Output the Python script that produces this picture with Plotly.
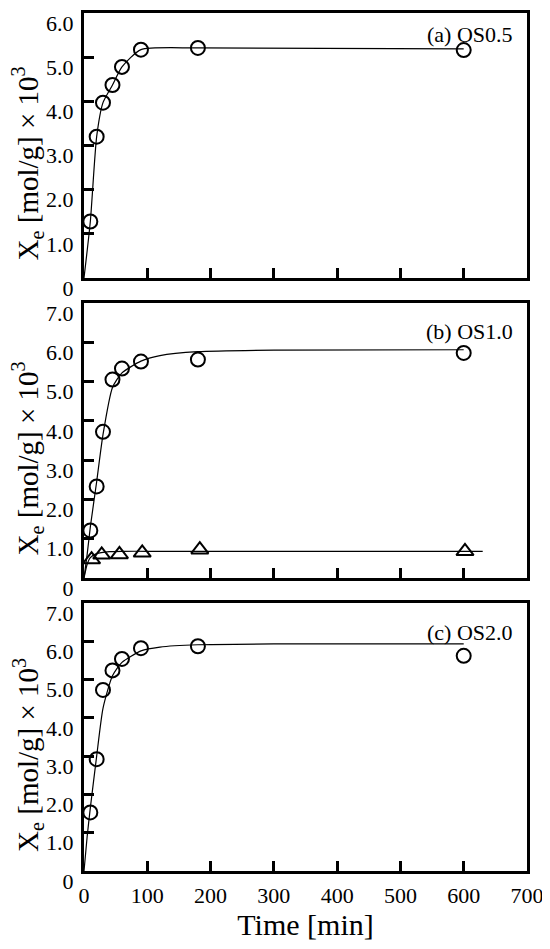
import plotly.graph_objects as go

# ---------------- data ----------------
time_a = [10, 20, 30, 45, 60, 90, 180, 600]
xe_a = [1.28, 3.20, 3.97, 4.37, 4.78, 5.17, 5.21, 5.16]
fit_t_a = [0, 10, 20, 30, 45, 60, 90, 180, 600]
fit_a = [0.0, 1.28, 3.20, 3.97, 4.37, 4.78, 5.17, 5.21, 5.19]

time_b = [10, 20, 30, 45, 60, 90, 180, 600]
xe_b = [1.21, 2.33, 3.72, 5.05, 5.33, 5.51, 5.56, 5.73]
fit_t_b = [0, 5, 10, 20, 30, 45, 60, 90, 120, 180, 300, 600]
fit_b = [0.0, 0.6, 1.3, 2.45, 3.65, 4.85, 5.22, 5.52, 5.66, 5.76, 5.80, 5.81]

time_b2 = [12, 28, 56, 92, 183, 602]
xe_b2 = [0.47, 0.59, 0.60, 0.64, 0.72, 0.68]
fit_t_b2 = [0, 5, 10, 20, 40, 60, 100, 200, 630]
fit_b2 = [0.0, 0.35, 0.52, 0.62, 0.67, 0.68, 0.68, 0.68, 0.68]

time_c = [10, 20, 30, 45, 60, 90, 180, 600]
xe_c = [1.53, 2.92, 4.73, 5.24, 5.54, 5.82, 5.87, 5.62]
fit_t_c = [0, 5, 10, 20, 30, 45, 60, 90, 120, 180, 300, 600]
fit_c = [0.0, 0.9, 1.65, 3.0, 4.25, 5.1, 5.45, 5.75, 5.85, 5.91, 5.93, 5.93]

labels = ["(a) OS0.5", "(b) OS1.0", "(c) OS2.0"]
y_title = "X<sub>e</sub> [mol/g] × 10<sup>3</sup>"
x_title = "Time [min]"
y_max = [6, 7, 7]
x_ticks = [0, 100, 200, 300, 400, 500, 600, 700]

# ---------------- layout geometry ----------------
# the page body has an 8px margin, so the figure is offset by 8px
OFF = 8
W, H = 550 - OFF, 949 - OFF
PLOT_T, PLOT_B, PLOT_L, PLOT_R = 13, 871, 84, 527   # page pixel coordinates
M_T = PLOT_T - OFF
M_B = 949 - PLOT_B
M_L = PLOT_L - OFF
M_R = 550 - PLOT_R
PH = PLOT_B - PLOT_T
PW = PLOT_R - PLOT_L
panels_px = [(13, 278), (303, 578), (603, 871)]


def dom(top, bot):
    return [(PLOT_B - bot) / PH, (PLOT_B - top) / PH]


FONT = "Liberation Serif"
fig = go.Figure()

circle = dict(symbol="circle-open", size=14, color="black", line=dict(width=2, color="black"))
tri = dict(symbol="triangle-up-open", size=15, color="black", line=dict(width=2, color="black"))
line = dict(color="black", width=1.2, shape="spline", smoothing=0.6)

series = [
    [(fit_t_a, fit_a, None), (time_a, xe_a, circle)],
    [(fit_t_b, fit_b, None), (time_b, xe_b, circle), (fit_t_b2, fit_b2, None), (time_b2, xe_b2, tri)],
    [(fit_t_c, fit_c, None), (time_c, xe_c, circle)],
]

for i, grp in enumerate(series):
    ax = "" if i == 0 else str(i + 1)
    for xs, ys, mk in grp:
        if mk is None:
            fig.add_trace(go.Scatter(x=xs, y=ys, mode="lines", line=line,
                                     xaxis="x" + ax, yaxis="y" + ax, showlegend=False, cliponaxis=True))
        else:
            fig.add_trace(go.Scatter(x=xs, y=ys, mode="markers", marker=mk,
                                     xaxis="x" + ax, yaxis="y" + ax, showlegend=False, cliponaxis=False))

layout = dict(
    width=W, height=H,
    margin=dict(t=M_T, b=M_B, l=M_L, r=M_R, autoexpand=False),
    paper_bgcolor="white", plot_bgcolor="white",
    font=dict(family=FONT, color="black", size=20),
    showlegend=False,
)

annotations = []
for i in range(3):
    ax = "" if i == 0 else str(i + 1)
    top, bot = panels_px[i]
    ymx = y_max[i]
    yt = list(range(0, ymx + 1))
    ytxt = ["0"] + [f"{v:.1f}" for v in yt[1:]]
    layout["xaxis" + ax] = dict(
        domain=[0, 1], anchor="y" + ax, range=[0, 700],
        tickvals=x_ticks, ticktext=[str(v) for v in x_ticks],
        showticklabels=(i == 2), ticks="inside", ticklen=10, tickwidth=2.5,
        tickcolor="black", showline=True, linecolor="black", linewidth=3,
        mirror=True, showgrid=False, zeroline=False, automargin=False,
        tickfont=dict(size=22), ticklabelstandoff=3,
        title=dict(text=x_title if i == 2 else "", font=dict(size=30), standoff=0),
    )
    layout["yaxis" + ax] = dict(
        domain=dom(top, bot), anchor="x" + ax, range=[0, ymx],
        tickvals=yt, ticktext=ytxt, automargin=False,
        ticks="inside", ticklen=10, tickwidth=2.5, tickcolor="black",
        showline=True, linecolor="black", linewidth=3, mirror=True,
        showgrid=False, zeroline=False, tickfont=dict(size=22),
        ticklabelshift=10, ticklabelstandoff=3,
    )
    annotations.append(dict(
        text=labels[i], xref="x" + ax + " domain", yref="y" + ax + " domain",
        x=(515 - 84) / 443, y=[0.92, 0.897, 0.89][i], xanchor="right", yanchor="middle",
        showarrow=False, font=dict(size=22, family=FONT),
    ))
    # rotated y-axis title, centred a little below the panel centre as in the reference
    cy = (top + bot) / 2 + 18
    annotations.append(dict(
        text=y_title, xref="paper", yref="paper",
        x=(28 - PLOT_L) / PW, y=(PLOT_B - cy) / PH, xanchor="center", yanchor="middle",
        textangle=-90, showarrow=False, font=dict(size=29, family=FONT),
    ))

layout["annotations"] = annotations
fig.update_layout(**layout)
fig.write_html("out.html")
